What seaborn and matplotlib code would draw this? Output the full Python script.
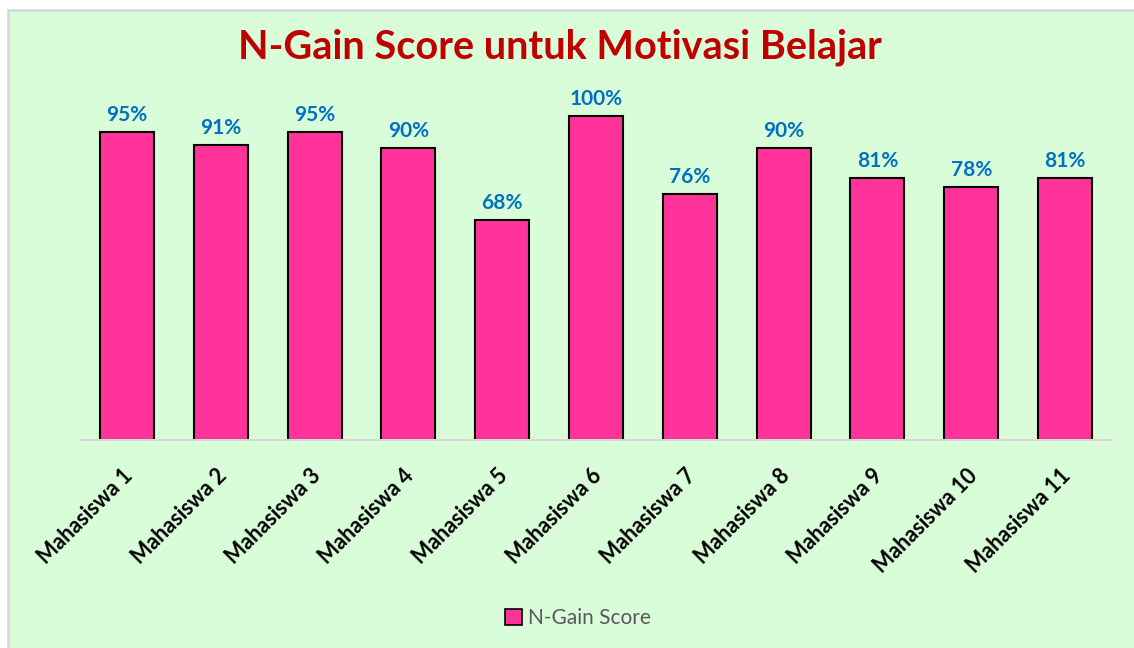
import matplotlib
matplotlib.use('Agg')
import matplotlib.pyplot as plt
import matplotlib.transforms as mtransforms
import seaborn as sns
import pandas as pd
from matplotlib.patches import Rectangle, Patch

# data
students = ['Mahasiswa 1', 'Mahasiswa 2', 'Mahasiswa 3', 'Mahasiswa 4', 'Mahasiswa 5',
            'Mahasiswa 6', 'Mahasiswa 7', 'Mahasiswa 8', 'Mahasiswa 9', 'Mahasiswa 10',
            'Mahasiswa 11']
ngain = [0.95, 0.91, 0.95, 0.90, 0.68, 1.00, 0.76, 0.90, 0.81, 0.78, 0.81]
series_name = 'N-Gain Score'
title = 'N-Gain Score untuk Motivasi Belajar'

df = pd.DataFrame({'student': students, 'score': ngain})

sns.set_theme(style='white')
plt.rcParams['font.family'] = ['Lato', 'DejaVu Sans']

W, H = 1134, 648
fig = plt.figure(figsize=(W / 100, H / 100), dpi=100, facecolor='white')

# chart area background with light grey border (behind the axes)
bg = Rectangle((8 / W, -0.01), 1.0, 1 - 10 / H + 0.01, transform=fig.transFigure,
               facecolor='#d9fdd8', edgecolor='#d9d9d9', linewidth=2, zorder=-1)
fig.patches.append(bg)

ax = fig.add_axes([80 / W, 1 - 440 / H, (1112 - 80) / W, 388.8 / H])
ax.set_facecolor('none')

bar_color = '#ff3399'
sns.barplot(data=df, x='student', y='score', color=bar_color, saturation=1,
            edgecolor='black', linewidth=1.5, width=0.576, ax=ax)

ax.set_ylim(0, 1.2)
ax.set_xlim(-0.5, len(students) - 0.5)
ax.set_xlabel('')
ax.set_ylabel('')
ax.set_yticks([])

for side in ['top', 'right', 'left']:
    ax.spines[side].set_visible(False)
ax.spines['bottom'].set_color('#d9d9d9')
ax.spines['bottom'].set_linewidth(1.5)

ax.bar_label(ax.containers[0], labels=[f'{v:.0%}' for v in ngain], padding=5,
             color='#0070c0', fontsize=15, fontweight='bold')

ax.tick_params(axis='x', length=0, pad=18)
shift = mtransforms.ScaledTranslation(-5 / 100, 0, fig.dpi_scale_trans)
for lbl in ax.get_xticklabels():
    lbl.set_transform(lbl.get_transform() + shift)
plt.setp(ax.get_xticklabels(), rotation=45, ha='right', rotation_mode='anchor',
         fontsize=15.5, fontweight='bold', color='black')

fig.text(560 / W, 1 - 47 / H, title, ha='center', va='center',
         fontsize=28.5, fontweight='bold', color='#c00000')

handle = Patch(facecolor=bar_color, edgecolor='black', linewidth=1.2)
fig.legend([handle], [series_name], loc='center', bbox_to_anchor=(578 / W, 1 - 618 / H),
           frameon=False, fontsize=15, labelcolor='#595959', handlelength=0.8,
           handleheight=0.8, handletextpad=0.3)

fig.savefig('out.png', dpi=100, facecolor='white')
